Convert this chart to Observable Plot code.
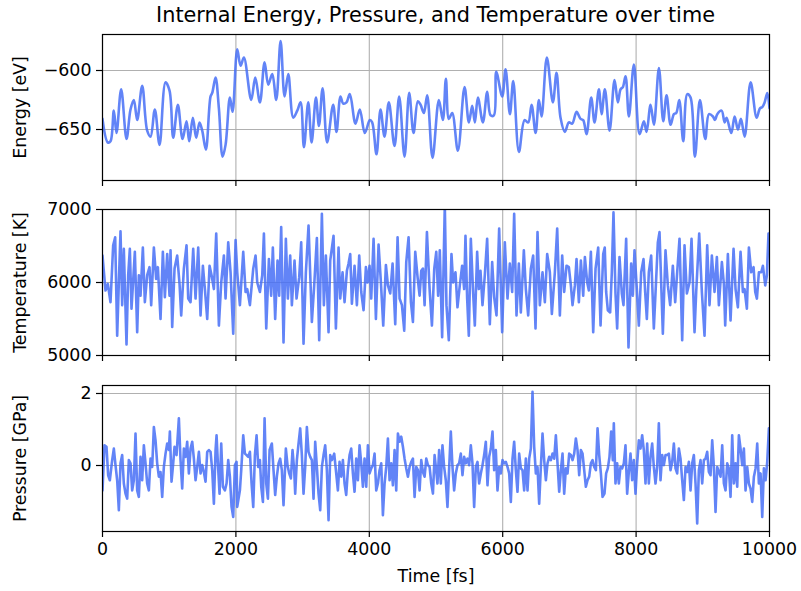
<!DOCTYPE html>
<html>
<head>
<meta charset="utf-8">
<script src="https://cdn.jsdelivr.net/npm/d3@7"></script>
<script src="https://cdn.jsdelivr.net/npm/@observablehq/plot@0.6"></script>
<style>
  html, body { margin: 0; padding: 0; background: white; }
  #fig { position: relative; width: 801px; height: 591px; background: white; font-family: "DejaVu Sans", sans-serif; overflow: hidden; }
  #title { position: absolute; left: 102px; width: 667px; top: 3px; text-align: center; font-size: 20.8px; line-height: 1.2; color: black; }
  .panel { position: absolute; left: 0; }
</style>
</head>
<body>
<div id="fig">
  <div id="title">Internal Energy, Pressure, and Temperature over time</div>
</div>
<script>
const xTicks = [0, 2000, 4000, 6000, 8000, 10000];
const energyTicks = [-650, -600];
const temperatureTicks = [5000, 6000, 7000];
const pressureTicks = [0, 2];

const energyTime = [0,80,120,170,210,280,360,420,470,520,595,670,720,785,855,945,1005,1060,1130,1200,1260,1300,1355,1405,1455,1495,1550,1620,1645,1695,1745,1800,1845,1910,1950,2020,2070,2120,2230,2290,2360,2430,2485,2545,2605,2670,2730,2785,2860,2920,2970,3020,3085,3135,3200,3245,3300,3368,3458,3508,3568,3608,3658,3708,3793,3858,3933,4008,4043,4108,4168,4228,4293,4378,4448,4528,4598,4663,4728,4768,4818,4868,4948,5043,5103,5148,5193,5243,5328,5428,5493,5543,5583,5628,5703,5768,5818,5868,5903,5993,6043,6108,6158,6243,6328,6383,6433,6493,6543,6583,6662,6752,6807,6867,6932,6992,7042,7107,7167,7207,7257,7327,7377,7442,7482,7532,7602,7677,7727,7767,7802,7842,7892,7967,8052,8117,8157,8217,8267,8342,8407,8457,8517,8567,8602,8647,8707,8767,8817,8882,8957,9037,9092,9152,9182,9217,9282,9327,9357,9427,9477,9527,9572,9627,9717,9807,9857,9892,9927,9967,10000];
const energyValue = [-641,-661,-660,-634,-653,-616,-658,-633,-625,-642,-613,-651,-656,-633,-663,-610,-617,-657,-629,-658,-643,-660,-640,-657,-644,-651,-667,-622,-619,-606,-632,-673,-663,-623,-635,-582,-596,-589,-625,-606,-627,-593,-612,-603,-625,-575,-622,-603,-640,-634,-627,-665,-627,-661,-623,-647,-615,-661,-629,-652,-622,-628,-627,-620,-645,-633,-653,-642,-644,-671,-633,-656,-627,-664,-622,-673,-619,-653,-626,-629,-636,-621,-674,-625,-642,-607,-641,-636,-668,-614,-644,-630,-644,-623,-644,-618,-638,-638,-601,-622,-599,-637,-609,-669,-642,-644,-629,-653,-625,-639,-589,-627,-602,-640,-652,-644,-645,-635,-641,-642,-654,-623,-644,-616,-637,-616,-651,-608,-627,-616,-614,-605,-639,-595,-654,-643,-652,-629,-646,-598,-643,-621,-646,-637,-636,-625,-660,-620,-623,-673,-625,-658,-637,-639,-642,-637,-634,-644,-640,-653,-639,-650,-641,-656,-610,-640,-632,-631,-627,-619,-632];

const temperatureTime = [0,45,80,120,160,190,220,245,270,295,320,360,385,410,435,485,520,545,570,605,635,670,705,730,770,805,830,870,905,935,970,1005,1020,1045,1080,1120,1155,1180,1220,1260,1285,1320,1360,1395,1435,1470,1505,1535,1570,1605,1635,1670,1705,1745,1780,1820,1845,1885,1920,1960,1995,2020,2060,2110,2145,2170,2210,2260,2295,2320,2360,2395,2420,2455,2495,2529,2554,2589,2624,2649,2679,2714,2749,2779,2814,2839,2879,2909,2949,2979,3014,3049,3089,3139,3174,3214,3249,3289,3319,3349,3389,3414,3464,3499,3539,3564,3599,3629,3664,3689,3714,3739,3779,3814,3849,3879,3914,3949,3974,4004,4029,4064,4099,4139,4174,4209,4249,4279,4314,4349,4389,4424,4454,4489,4524,4554,4589,4624,4654,4689,4724,4754,4779,4804,4829,4864,4904,4939,4974,5004,5032,5057,5092,5132,5157,5192,5232,5257,5292,5322,5357,5392,5422,5442,5467,5492,5522,5557,5582,5617,5642,5667,5697,5732,5767,5807,5842,5872,5907,5947,5992,6032,6072,6107,6142,6172,6207,6242,6272,6317,6347,6382,6422,6457,6492,6522,6557,6597,6632,6667,6707,6737,6782,6817,6857,6892,6922,6957,6992,7022,7047,7082,7107,7142,7172,7207,7232,7267,7292,7322,7357,7392,7432,7467,7507,7530,7551,7576,7611,7636,7661,7691,7716,7751,7786,7811,7851,7886,7926,7951,7976,8011,8041,8076,8111,8136,8161,8191,8226,8266,8301,8326,8351,8401,8441,8476,8511,8551,8586,8616,8651,8691,8726,8761,8801,8831,8876,8901,8946,8986,9026,9066,9101,9136,9176,9211,9241,9286,9316,9336,9376,9416,9461,9491,9526,9566,9601,9626,9661,9691,9726,9761,9786,9811,9841,9876,9901,9936,9961,9985,10000];
const temperatureValue = [6370,5890,5980,5730,6510,6620,5270,6000,6700,5690,6460,5150,6100,6460,5640,6420,5320,6100,5820,6480,5730,6100,6210,5690,6480,6050,6210,5500,6420,5800,6390,5820,6440,5390,6190,6370,5980,5550,6190,6510,5780,5730,6460,5780,6480,5550,6230,5910,5500,6230,6100,5910,6670,5410,6000,6370,5780,6550,6140,5300,6580,6140,5690,6420,5870,5910,5690,6190,6370,6000,5870,6100,6670,5370,6320,5820,6480,5500,6300,5820,6760,5180,6600,5780,6370,5690,6300,5780,6070,6550,5160,6140,6780,5460,5960,6610,5210,6940,5690,6370,5320,6300,6640,5370,6480,5780,6140,5730,6160,6260,6390,5710,6230,5690,6370,5870,5620,6210,6000,6230,5780,6600,5500,6520,6000,5410,6240,5960,5850,6260,5430,6620,5780,5690,5340,6280,6620,5730,5460,6420,6070,5820,6160,6190,5690,6690,5910,5410,6190,6420,5820,6440,5250,7060,5690,5210,6390,6000,6140,5660,5960,6230,5910,6640,5780,5270,6600,5850,5410,6420,5910,6160,5690,6100,6600,5430,6280,5800,5550,6740,5320,6550,5780,6260,5870,6940,5550,6260,5590,6440,5910,5550,6190,6370,5370,6690,5690,6140,5730,6390,6140,5570,6140,6740,5550,6370,5870,6230,6210,5960,5690,5960,6320,5730,6300,5820,6350,6000,5890,6420,5320,6190,6480,5410,6390,6480,5870,5620,5590,6140,6960,5850,5370,6350,5850,5690,6600,5110,6260,5820,6440,5910,5410,6140,6320,5870,5500,6140,6370,5370,6050,6550,6690,5300,6440,5960,5690,6230,5730,6140,6600,5210,6510,5850,6000,6600,5320,5870,6670,5870,5270,6510,5690,6370,5870,6350,5690,6280,5980,5410,6390,5480,6460,5910,5660,6420,5870,5910,5640,6480,6140,6210,5870,5780,6140,6140,6230,5960,6100,6670,6630];

const pressureTime = [0,30,60,85,110,145,170,195,220,245,270,295,320,345,370,395,420,445,470,495,520,545,570,595,620,645,670,695,720,745,770,795,820,845,870,895,920,945,970,995,1010,1035,1060,1080,1110,1145,1170,1195,1220,1245,1270,1295,1320,1345,1370,1395,1420,1445,1470,1495,1520,1545,1570,1595,1620,1645,1670,1695,1710,1730,1755,1780,1805,1835,1860,1885,1910,1935,1960,1985,2010,2020,2060,2080,2110,2135,2160,2185,2210,2235,2260,2285,2310,2335,2360,2380,2405,2430,2455,2480,2505,2539,2564,2589,2614,2639,2664,2689,2714,2749,2774,2799,2824,2849,2874,2889,2914,2939,2964,2989,3014,3039,3064,3089,3114,3139,3164,3189,3214,3239,3264,3289,3314,3339,3364,3389,3414,3439,3474,3504,3529,3554,3579,3604,3629,3654,3679,3704,3729,3754,3779,3804,3829,3854,3879,3904,3929,3954,3979,4004,4029,4054,4079,4104,4129,4154,4179,4204,4229,4254,4279,4304,4329,4354,4379,4404,4429,4454,4479,4504,4529,4554,4579,4604,4629,4654,4679,4704,4729,4754,4779,4804,4829,4854,4879,4904,4929,4954,4979,5000,5022,5047,5072,5097,5122,5147,5172,5197,5222,5247,5272,5297,5322,5347,5372,5397,5422,5447,5472,5497,5522,5547,5572,5597,5622,5647,5672,5697,5722,5747,5772,5797,5822,5847,5872,5897,5922,5947,5972,5997,6022,6047,6072,6097,6122,6147,6172,6197,6222,6247,6272,6297,6322,6347,6372,6397,6422,6447,6472,6497,6522,6547,6572,6597,6622,6647,6672,6697,6722,6747,6772,6797,6822,6847,6872,6897,6922,6947,6972,6997,7022,7047,7072,7097,7122,7147,7172,7197,7222,7247,7272,7297,7322,7347,7372,7397,7422,7447,7472,7497,7526,7551,7576,7601,7626,7651,7666,7691,7716,7741,7766,7791,7816,7841,7866,7891,7916,7941,7966,7991,8016,8041,8066,8091,8116,8141,8166,8191,8216,8241,8266,8291,8316,8341,8366,8391,8416,8441,8466,8491,8516,8541,8566,8591,8616,8641,8666,8691,8716,8741,8766,8791,8816,8841,8866,8891,8916,8941,8966,8991,9016,9041,9066,9091,9116,9141,9166,9191,9216,9241,9266,9291,9316,9341,9366,9391,9416,9441,9466,9491,9516,9541,9566,9591,9616,9641,9666,9691,9716,9741,9766,9791,9816,9841,9866,9891,9916,9941,9966,9991,10000];
const pressureValue = [-0.69,0.56,0.52,-0.27,-0.41,0.15,0.47,0.01,-0.41,-1.24,0.06,0.29,-0.50,-0.78,-0.92,0.15,0.06,-0.69,-0.41,0.89,-0.69,-0.87,0.24,-0.41,0.56,0.06,-0.50,-0.69,0.19,-0.04,1.07,0.70,0.06,-0.31,-0.18,-0.87,-0.04,0.33,0.61,0.43,0.94,-0.45,0.06,0.52,0.29,1.31,0.15,-0.64,0.47,0.24,0.66,-0.22,0.47,0.66,0.19,-0.41,-0.04,0.38,-0.22,0.01,-0.18,-0.45,0.38,0.43,0.38,-0.13,-1.06,0.43,0.84,0.06,-0.78,0.61,-0.59,-0.69,-0.50,0.15,-0.31,-1.15,-1.43,0.01,0.10,-1.15,-0.69,-0.13,0.84,0.33,0.29,0.24,0.38,-0.50,-1.15,0.29,0.84,-0.04,0.15,-0.59,-1.01,1.31,-0.50,-0.92,0.43,0.61,-0.13,-0.82,-0.31,0.06,0.19,-0.13,-1.10,0.47,0.01,-0.22,-0.36,0.43,-0.13,-0.78,0.15,0.61,1.03,0.29,-0.78,-0.04,1.07,0.38,0.24,0.15,-0.92,0.66,-0.04,-0.78,-1.24,-0.04,0.29,0.56,-0.13,-1.52,0.29,0.15,0.33,-0.22,-0.69,0.10,-0.31,0.15,-0.50,-0.82,-0.13,0.29,0.47,-0.22,-0.73,0.19,-0.41,0.56,0.06,-0.59,0.19,-0.59,0.56,-0.22,-0.08,0.01,0.33,-0.69,-0.50,-0.13,0.06,-1.38,-0.50,-0.04,0.75,-0.41,0.06,-0.55,0.43,-0.69,0.89,0.66,0.80,0.52,0.19,-0.08,-0.31,-0.04,0.10,0.19,-0.87,-0.04,-0.13,-0.69,0.15,-0.18,-0.31,0.19,0.01,-0.04,-0.50,-0.78,0.29,-0.08,-0.50,0.43,-0.50,0.56,-0.04,-0.41,-1.15,-0.08,0.94,-0.04,-0.69,-0.22,0.01,0.06,0.33,-0.27,0.24,0.06,0.19,0.01,0.56,0.06,-1.15,-0.04,0.10,-0.50,-0.22,0.01,0.29,0.66,-0.55,0.24,0.47,0.94,-0.13,0.43,-0.69,-0.04,-0.22,0.15,0.06,0.10,-0.04,-0.22,-1.01,0.19,0.66,-0.13,-0.73,0.33,-0.08,-0.13,-0.69,0.19,-0.69,0.19,0.47,2.05,0.52,-0.22,-0.04,-1.06,-0.04,0.89,0.15,-0.41,0.06,0.24,0.15,0.33,0.19,0.84,0.06,-0.73,-0.13,0.33,-0.78,-0.08,-0.22,0.33,0.29,0.15,0.33,0.75,0.43,-0.27,0.43,0.33,-0.13,-0.59,-0.41,-0.31,0.06,0.15,-0.04,-0.13,1.03,0.29,-0.22,-0.87,-0.78,-0.22,-0.08,0.24,0.94,0.15,1.17,-0.50,0.06,-0.50,-0.04,-0.08,0.06,0.56,-0.78,-0.18,0.33,-0.41,0.15,-0.78,0.06,0.70,0.47,0.84,0.43,-0.50,0.61,-0.50,0.24,0.61,-0.04,-0.50,-0.04,1.17,-0.41,0.29,0.01,0.29,0.29,0.33,-0.13,0.10,0.61,-0.08,-0.22,0.47,0.19,-0.41,-0.96,-0.04,-0.18,0.10,-0.69,0.06,0.29,-0.50,-1.61,-0.13,0.15,-0.50,0.15,0.19,0.38,-0.18,-0.27,0.70,-0.04,-1.29,-0.04,-0.18,-0.31,0.56,-0.50,-0.69,0.06,-0.08,-0.87,0.84,-0.50,0.06,-0.59,0.84,0.47,0.01,0.47,-0.69,-0.04,-0.50,-0.64,-1.01,-0.31,-0.08,0.61,-0.50,-0.22,-1.43,-0.08,-0.41,0.10,1.03,0.95];

const lineColor = "#466ef6";
const gridColor = "#b0b0b0";
const fmt = d3.format("d");

function panel({time, value, yDomain, yTicks, yLabel, curve, top, marginTop, marginBottom, showX}) {
  const data = time.map((t, i) => ({t, v: value[i]}));
  const height = marginTop + 146 + marginBottom;
  const marks = [
    Plot.gridX(xTicks, {stroke: gridColor, strokeOpacity: 1, strokeWidth: 1.1}),
    Plot.gridY(yTicks, {stroke: gridColor, strokeOpacity: 1, strokeWidth: 1.1}),
    Plot.line(data, {x: "t", y: "v", stroke: lineColor, strokeOpacity: 0.85, strokeWidth: 2.6, curve, clip: true, strokeLinejoin: "round"}),
    Plot.frame({stroke: "black", strokeWidth: 1.2}),
    Plot.axisY(yTicks, {tickSize: 6, tickPadding: 5, strokeWidth: 1.2, tickFormat: fmt, label: yLabel, labelAnchor: "center", labelArrow: "none", labelOffset: 89}),
    Plot.axisX(xTicks, showX
      ? {tickSize: 6, tickPadding: 5, strokeWidth: 1.2, tickFormat: fmt, label: "Time [fs]", labelAnchor: "center", labelArrow: "none", labelOffset: 50}
      : {tickSize: 6, strokeWidth: 1.2, tickFormat: () => "", label: null})
  ];
  const svg = Plot.plot({
    width: 801, height,
    marginLeft: 102, marginRight: 32, marginTop, marginBottom,
    style: {fontFamily: "DejaVu Sans, sans-serif", fontSize: "17.4px", color: "black", background: "transparent", overflow: "visible"},
    x: {domain: [0, 10000]},
    y: {domain: yDomain},
    marks
  });
  svg.classList.add("panel");
  svg.style.top = top + "px";
  svg.style.position = "absolute";
  document.getElementById("fig").appendChild(svg);
}

panel({time: energyTime, value: energyValue, yDomain: [-693.2, -569.5], yTicks: energyTicks, yLabel: "Energy [eV]", curve: "catmull-rom", top: 24, marginTop: 10, marginBottom: 18, showX: false});
panel({time: temperatureTime, value: temperatureValue, yDomain: [5000, 7000], yTicks: temperatureTicks, yLabel: "Temperature [K]", curve: "linear", top: 198, marginTop: 11, marginBottom: 18, showX: false});
panel({time: pressureTime, value: pressureValue, yDomain: [-1.833, 2.222], yTicks: pressureTicks, yLabel: "Pressure [GPa]", curve: "linear", top: 373, marginTop: 12, marginBottom: 60, showX: true});
</script>
</body>
</html>
